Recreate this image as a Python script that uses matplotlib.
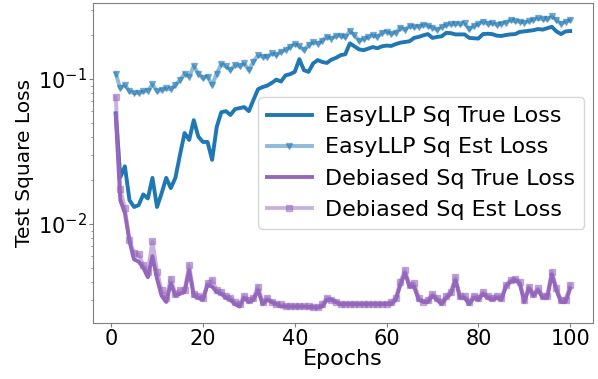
import matplotlib
matplotlib.use("Agg")
import matplotlib.pyplot as plt
import numpy as np

epochs = list(range(1, 101))

easy_true = [
    0.058, 0.021, 0.025, 0.0146, 0.0131, 0.0135, 0.016, 0.015, 0.0208, 0.0131,
    0.0163, 0.0208, 0.0177, 0.0208, 0.030, 0.0424, 0.038, 0.052, 0.040, 0.0368,
    0.0368, 0.0277, 0.0467, 0.059, 0.060, 0.0565, 0.062, 0.063, 0.064, 0.060,
    0.0717, 0.085, 0.088, 0.090, 0.094, 0.099, 0.096, 0.106, 0.108, 0.112,
    0.137, 0.115, 0.112, 0.128, 0.135, 0.131, 0.129, 0.136, 0.140, 0.146,
    0.148, 0.176, 0.168, 0.160, 0.158, 0.162, 0.166, 0.163, 0.168, 0.170,
    0.169, 0.174, 0.178, 0.180, 0.182, 0.192, 0.195, 0.200, 0.204, 0.192,
    0.195, 0.197, 0.208, 0.207, 0.203, 0.203, 0.203, 0.192, 0.191, 0.190,
    0.204, 0.205, 0.204, 0.199, 0.198, 0.201, 0.203, 0.204, 0.211, 0.213,
    0.215, 0.217, 0.221, 0.219, 0.224, 0.229, 0.213, 0.204, 0.213, 0.214,
]

easy_est = [
    0.109, 0.086, 0.091, 0.082, 0.080, 0.080, 0.082, 0.083, 0.092, 0.082,
    0.084, 0.086, 0.085, 0.091, 0.098, 0.109, 0.104, 0.123, 0.109, 0.101,
    0.104, 0.091, 0.109, 0.127, 0.122, 0.115, 0.125, 0.122, 0.128, 0.115,
    0.132, 0.146, 0.142, 0.142, 0.150, 0.146, 0.154, 0.158, 0.167, 0.174,
    0.168, 0.158, 0.171, 0.180, 0.175, 0.184, 0.195, 0.190, 0.198, 0.198,
    0.194, 0.215, 0.200, 0.184, 0.188, 0.194, 0.200, 0.195, 0.208, 0.212,
    0.205, 0.208, 0.226, 0.218, 0.232, 0.228, 0.230, 0.236, 0.232, 0.226,
    0.218, 0.228, 0.236, 0.238, 0.240, 0.238, 0.242, 0.220, 0.232, 0.238,
    0.249, 0.240, 0.243, 0.236, 0.240, 0.245, 0.255, 0.250, 0.248, 0.245,
    0.250, 0.256, 0.262, 0.258, 0.258, 0.270, 0.255, 0.240, 0.248, 0.255,
]

deb_true = [
    0.0565, 0.0146, 0.0119, 0.0076, 0.0057, 0.0055, 0.0050, 0.0043, 0.0060, 0.0042,
    0.0032, 0.0029, 0.0039, 0.0032, 0.0033, 0.0034, 0.0048, 0.0032, 0.0031, 0.0030,
    0.0038, 0.0037, 0.0034, 0.0033, 0.0031, 0.0030, 0.0028, 0.0027, 0.0031, 0.0029,
    0.0030, 0.0035, 0.0028, 0.0030, 0.0029, 0.0028, 0.0027, 0.0027, 0.0027, 0.0027,
    0.0027, 0.0027, 0.00268, 0.00266, 0.00265, 0.0027, 0.0030, 0.0030, 0.0029, 0.0028,
    0.0028, 0.0028, 0.0028, 0.0028, 0.0028, 0.0028, 0.0028, 0.0028, 0.0028, 0.0028,
    0.0028, 0.0030, 0.0038, 0.0046, 0.0037, 0.0037, 0.0030, 0.0029, 0.0029, 0.0032,
    0.0030, 0.0028, 0.0031, 0.0033, 0.0041, 0.0031, 0.0031, 0.0028, 0.0031, 0.0030,
    0.0033, 0.0031, 0.0030, 0.0031, 0.0030, 0.0037, 0.0040, 0.0041, 0.0039, 0.0029,
    0.0036, 0.0032, 0.0035, 0.0031, 0.0031, 0.0045, 0.0035, 0.0029, 0.0029, 0.0036,
]

deb_est = [
    0.075, 0.0174, 0.0128, 0.0078, 0.0063, 0.0062, 0.0052, 0.0047, 0.0076, 0.0047,
    0.0035, 0.0031, 0.0042, 0.0033, 0.0035, 0.0035, 0.0052, 0.0033, 0.0032, 0.0031,
    0.0039, 0.0041, 0.0035, 0.0034, 0.0032, 0.0031, 0.0029, 0.0028, 0.0032, 0.0030,
    0.0031, 0.0037, 0.0029, 0.0031, 0.0029, 0.0028, 0.0028, 0.0027, 0.0027, 0.0027,
    0.0027, 0.0027, 0.0027, 0.00268, 0.00267, 0.0028, 0.0031, 0.0030, 0.0029, 0.0028,
    0.0028, 0.0028, 0.0028, 0.0028, 0.0028, 0.0028, 0.0028, 0.0028, 0.0028, 0.0028,
    0.0029, 0.0031, 0.0040, 0.0048, 0.0038, 0.0039, 0.0031, 0.0029, 0.0030, 0.0033,
    0.0031, 0.0029, 0.0032, 0.0034, 0.0043, 0.0032, 0.0032, 0.0029, 0.0032, 0.0031,
    0.0034, 0.0032, 0.0031, 0.0032, 0.0031, 0.0038, 0.0041, 0.0042, 0.0040, 0.0030,
    0.0037, 0.0033, 0.0036, 0.0032, 0.0032, 0.0047, 0.0036, 0.0030, 0.0030, 0.0038,
]

labels = ["EasyLLP Sq True Loss", "EasyLLP Sq Est Loss",
          "Debiased Sq True Loss", "Debiased Sq Est Loss"]
xticks = [0, 20, 40, 60, 80, 100]

fig = plt.figure(figsize=(5.98, 3.79), dpi=100)
ax = fig.add_axes([0.1555, 0.148, 0.836, 0.844])

blue = "#1f77b4"
purple = "#9467bd"
ax.plot(epochs, easy_true, color=blue, lw=2.8, label=labels[0])
ax.plot(epochs, easy_est, color=blue, lw=2.8, alpha=0.5, marker="v", ms=4.5, label=labels[1])
ax.plot(epochs, deb_true, color=purple, lw=2.8, label=labels[2])
ax.plot(epochs, deb_est, color=purple, lw=2.8, alpha=0.5, marker="s", ms=4.5, label=labels[3])

ax.set_yscale("log")
ax.set_ylim(0.00208, 0.334)
ax.set_xticks(xticks)
ax.tick_params(labelsize=15, colors="black")
ax.tick_params(which="major", length=3, pad=1.5, color="0.5")
ax.tick_params(which="minor", length=1.8, color="0.5")
for s in ax.spines.values():
    s.set_color("0.5")
ax.set_xlabel("Epochs", fontsize=16, labelpad=0)
ax.set_ylabel("Test Square Loss", fontsize=14.5, labelpad=3)
ax.legend(loc="center right", fontsize=16, handlelength=2.0, handletextpad=0.6,
          borderaxespad=0.4)

fig.savefig("out.png", dpi=100)
